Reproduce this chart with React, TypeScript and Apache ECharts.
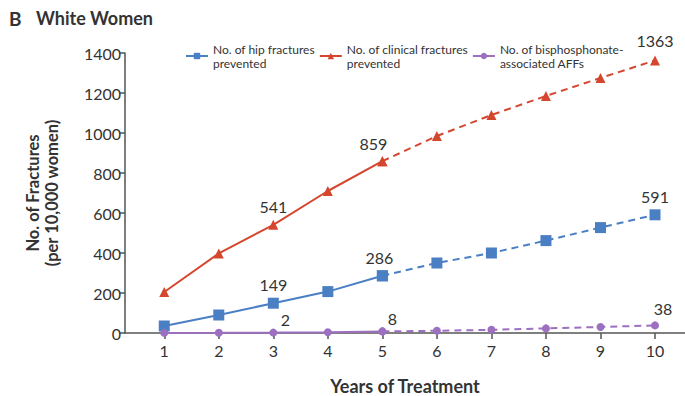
import React, { useEffect, useRef } from "react";
import * as echarts from "echarts";

const years = [1, 2, 3, 4, 5, 6, 7, 8, 9, 10];
const hipPrevented = [35, 90, 149, 207, 286, 350, 400, 462, 527, 591];
const clinicalPrevented = [205, 398, 541, 710, 859, 985, 1090, 1185, 1275, 1363];
const affs = [0.5, 1, 2, 4, 8, 11, 16, 23, 30, 38];
const yTicks = [0, 200, 400, 600, 800, 1000, 1200, 1400];

const hipLabelYears = [3, 5, 10];
const clinicalLabelYears = [3, 5, 10];
const affLabelYears = [3, 5, 10];

const BLUE = "#4a7fc4";
const RED = "#d4472e";
const PURPLE = "#9c6fc0";
const FONT = "Lato, 'Open Sans', sans-serif";

function build(values: number[], labelYears: number[], from: number, to: number, offsets: Record<number, number[]>) {
  const out: any[] = [];
  years.forEach((yr, i) => {
    if (yr < from || yr > to) return;
    const item: any = { value: [yr, values[i]] };
    if (labelYears.includes(yr)) {
      item.label = {
        show: true,
        position: "top",
        offset: offsets[yr] || [0, 0],
        formatter: String(Math.round(values[i])),
        color: "#333",
        fontSize: 16,
        fontFamily: FONT,
      };
    }
    out.push(item);
  });
  return out;
}

export default function App() {
  const ref = useRef<HTMLDivElement>(null);
  useEffect(() => {
    const chart = echarts.init(ref.current!, null, { renderer: "svg" });
    const hipName = "No. of hip fractures\nprevented";
    const clinName = "No. of clinical fractures\nprevented";
    const affName = "No. of bisphosphonate-\nassociated AFFs";

    const solidSeries = (name: string, color: string, symbol: string, size: number, data: any[]) => ({
      name,
      type: "line",
      data,
      symbol,
      symbolSize: size,
      lineStyle: { color, width: 2 },
      itemStyle: { color },
      z: 3,
    });
    const dashedSeries = (name: string, color: string, symbol: string, size: number, data: any[]) => ({
      name,
      type: "line",
      data,
      symbol,
      symbolSize: size,
      lineStyle: { color, width: 2, type: [7, 5] },
      itemStyle: { color },
      z: 3,
    });

    const hipSolid = build(hipPrevented, hipLabelYears.filter((y) => y <= 5), 1, 5, { 3: [0, 0], 5: [-3, 0] });
    const hipDash = build(hipPrevented, hipLabelYears.filter((y) => y > 5), 5, 10, { 10: [0, 0] });
    const clinSolid = build(clinicalPrevented, clinicalLabelYears.filter((y) => y <= 5), 1, 5, { 3: [0, 0], 5: [-9, 0] });
    const clinDash = build(clinicalPrevented, clinicalLabelYears.filter((y) => y > 5), 5, 10, { 10: [0, -2] });
    const affSolid = build(affs, affLabelYears.filter((y) => y <= 5), 1, 5, { 3: [12, 4], 5: [10, 4] });
    const affDash = build(affs, affLabelYears.filter((y) => y > 5), 5, 10, { 10: [8, 0] });

    chart.setOption({
      animation: false,
      textStyle: { fontFamily: FONT },
      graphic: [
        {
          type: "text",
          left: 9,
          top: 9,
          style: { text: "B", font: `bold 19px ${FONT}`, fill: "#333" },
        },
        {
          type: "text",
          left: 36,
          top: 9,
          style: { text: "White Women", font: `bold 18px ${FONT}`, fill: "#333" },
        },
      ],
      legend: {
        data: [hipName, clinName, affName],
        left: 180,
        top: 37,
        itemWidth: 22,
        itemHeight: 8,
        itemGap: 4,
        textStyle: { fontSize: 12, color: "#333", fontFamily: FONT, lineHeight: 14 },
        selectedMode: false,
      },
      grid: { left: 125, right: 0, top: 53, bottom: 63, outerBoundsMode: "none" },
      xAxis: {
        type: "value",
        min: 0.28,
        max: 10.55,
        name: "Years of Treatment",
        nameLocation: "middle",
        nameGap: 44,
        nameTextStyle: { fontSize: 18, fontWeight: "bold", color: "#333", fontFamily: FONT },
        axisLine: { show: true, lineStyle: { color: "#555", width: 1.5 } },
        axisTick: { show: true, customValues: years, length: 6, lineStyle: { color: "#555", width: 1.5 } },
        axisLabel: { customValues: years, color: "#333", fontSize: 16, margin: 9, fontFamily: FONT },
        splitLine: { show: false },
      },
      yAxis: {
        type: "value",
        min: 0,
        max: 1400,
        interval: 200,
        name: "No. of Fractures\n(per 10,000 women)",
        nameLocation: "middle",
        nameGap: 64,
        nameRotate: 90,
        nameTextStyle: { fontSize: 16.5, fontWeight: "bold", color: "#333", fontFamily: FONT, lineHeight: 19 },
        axisLine: { show: true, lineStyle: { color: "#555", width: 1.5 } },
        axisTick: { show: true, length: 5, lineStyle: { color: "#555", width: 1.5 } },
        axisLabel: {
          color: "#333",
          fontSize: 16,
          margin: 4,
          fontFamily: FONT,
          formatter: (v: number) => (yTicks.includes(v) ? String(v) : ""),
        },
        splitLine: { show: false },
      },
      series: [
        solidSeries(hipName, BLUE, "rect", 11, hipSolid),
        dashedSeries("hipDash", BLUE, "rect", 11, hipDash),
        solidSeries(clinName, RED, "triangle", 10, clinSolid),
        dashedSeries("clinDash", RED, "triangle", 10, clinDash),
        solidSeries(affName, PURPLE, "circle", 8, affSolid),
        dashedSeries("affDash", PURPLE, "circle", 8, affDash),
      ],
    });
    return () => chart.dispose();
  }, []);
  return <div ref={ref} style={{ width: 685, height: 396, position: "absolute", left: 0, top: 0, background: "#fff" }} />;
}
